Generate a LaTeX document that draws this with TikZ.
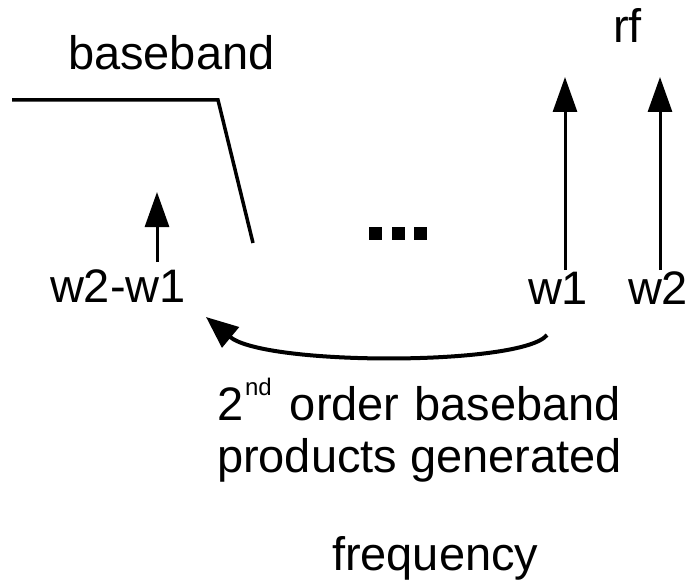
\documentclass[tikz,border=0pt]{standalone}
\usepackage{fontspec}
\setmainfont{Liberation Sans}
\usetikzlibrary{arrows.meta}
\begin{document}
\begin{tikzpicture}[x=1pt,y=-1pt,
  lbl/.style={anchor=base west,inner sep=0pt,outer sep=0pt,font=\fontsize{47}{52}\selectfont},
  spike/.style={line width=3pt,-{Triangle[length=35pt,width=24pt]}},
  dotsq/.style={fill=black,minimum size=13pt,inner sep=0pt}]
\useasboundingbox (0,0) rectangle (691,583);

% baseband filter edge
\coordinate (bbL) at (12,100);
\coordinate (bbK) at (218,100);
\coordinate (bbB) at (253,243);
\draw[line width=3.5pt,line join=miter] (bbL) -- (bbK) -- (bbB);

% tone arrows
\coordinate (d0) at (157,262); \coordinate (d1) at (157,192);
\coordinate (a0) at (565,270); \coordinate (a1) at (565,77);
\coordinate (b0) at (660,270); \coordinate (b1) at (660,77);
\draw[spike] (d0) -- (d1);
\draw[spike] (a0) -- (a1);
\draw[spike] (b0) -- (b1);

% ellipsis squares
\node[dotsq] (q1) at (375,233.5) {};
\node[dotsq] (q2) at (398,233.5) {};
\node[dotsq] (q3) at (420,233.5) {};

% labels
\node[lbl] (tbb) at (68,70) {baseband};
\node[lbl] (trf) at (613,43) {rf};
\node[lbl] (tdf) at (50,302) {w2-w1};
\node[lbl] (tw1) at (528,304) {w1};
\node[lbl] (tw2) at (628,304) {w2};
\node[lbl] (tl1) at (217,420) {2\kern2pt\raisebox{25pt}{\fontsize{24}{26}\selectfont nd}\kern5pt{} order\kern2pt{} baseband};
\node[lbl] (tl2) at (217,472) {products generated};
\node[lbl] (tfq) at (332,570) {frequency};

% mixing product arrow
\coordinate (cs) at (547,335);
\coordinate (ce) at (206,317);
\draw[line width=4pt,-{Triangle[length=32pt,width=26pt]}]
  (cs) .. controls (522,366) and (265,366) .. (ce);
\end{tikzpicture}
\end{document}
